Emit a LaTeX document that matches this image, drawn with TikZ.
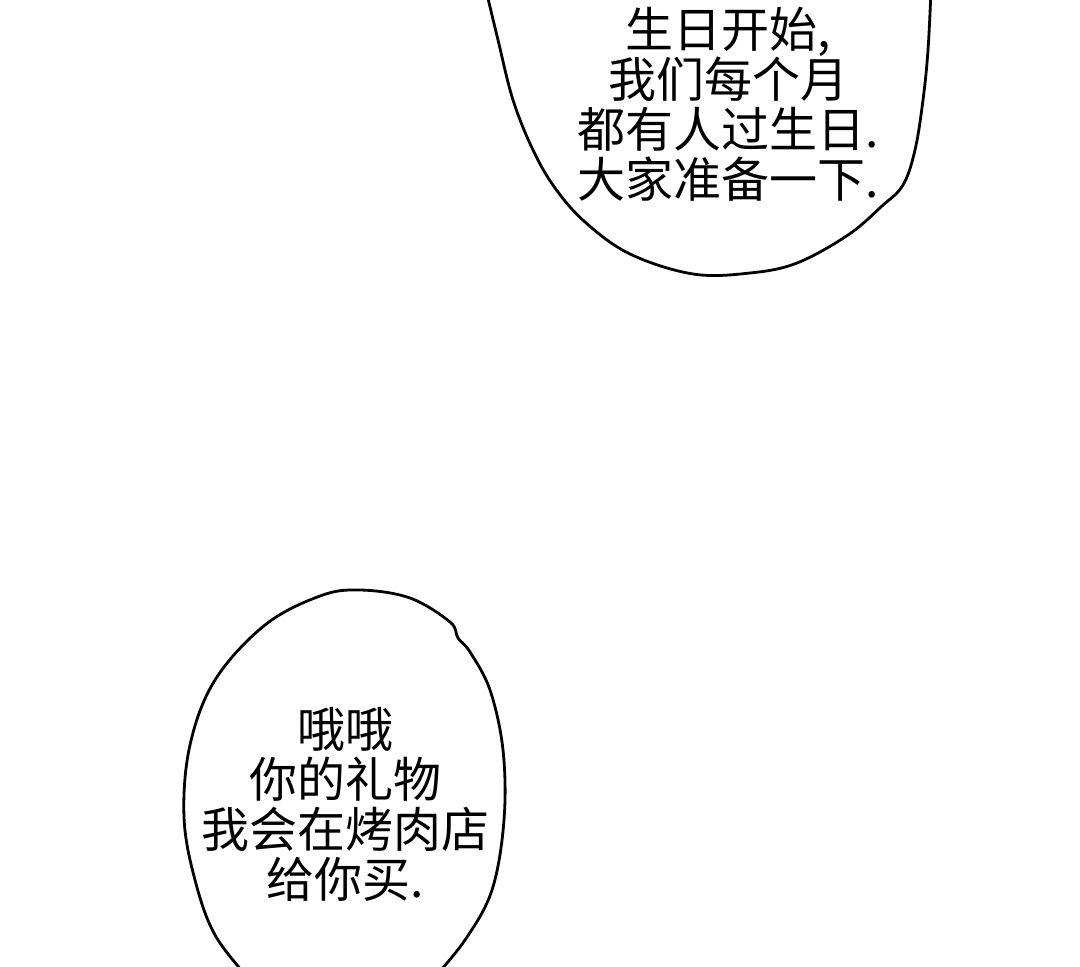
\documentclass[tikz,border=0pt]{standalone}
\usepackage{fontspec}
\newfontfamily\cjk{Noto Sans CJK SC}
\begin{document}
\begin{tikzpicture}[x=0.5pt,y=-0.5pt,
  bubble/.style={draw=black,line width=1.4pt,fill=white},
  speech/.style={font=\cjk\fontsize{24pt}{25pt}\selectfont,align=center,inner sep=0pt}]
\useasboundingbox[fill=white] (0,0) rectangle (1080,967);
\begin{scope}
\clip (0,0) rectangle (1080,967);
\draw[bubble] plot[smooth,tension=0.6] coordinates {(486,-10) (498,40) (513,100) (533,150) (555,188) (585,222) (630,254) (693,274) (750,273) (797,263) (848,235) (882,206) (903,185) (915,150) (923,100) (928,50) (931,-10)};
\draw[bubble] plot[smooth,tension=0.6] coordinates {(250,980) (215,935) (195,880) (184,817) (190,745) (215,680) (265,625) (320,596) (360,590) (410,598) (450,622) (458,638) (470,652) (490,690) (503,750) (504,820) (492,890) (465,940) (432,980)};
\end{scope}
\node[speech] (top) at (728,104) {生日开始,\\我们每个月\\都有人过生日.\\大家准备一下.};
\node[speech] (bot) at (345,804) {哦哦\\你的礼物\\我会在烤肉店\\给你买.};
\end{tikzpicture}
\end{document}
